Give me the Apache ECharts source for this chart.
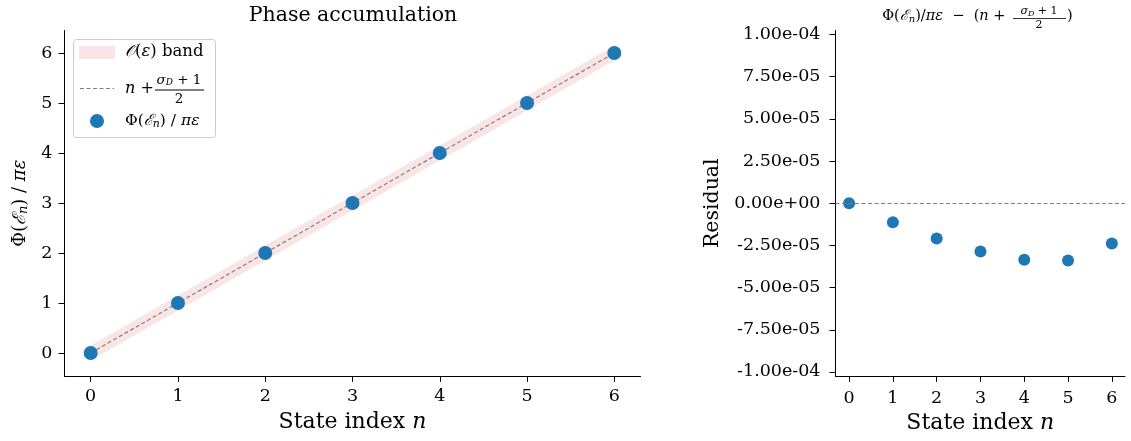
<!DOCTYPE html>
<html>
<head>
<meta charset="utf-8">
<script src="https://cdn.jsdelivr.net/npm/echarts@6/dist/echarts.min.js"></script>
<style>
  html, body { margin: 0; padding: 0; background: #fff; }
  #chart { width: 1131px; height: 441px; }
</style>
</head>
<body>
<div id="chart"></div>
<script>
// data
var stateIdx = [0, 1, 2, 3, 4, 5, 6];
var idealPhase = [0, 1, 2, 3, 4, 5, 6];          // n + (sigma_D + 1)/2
var residual = [0, -1.12e-5, -2.09e-5, -2.86e-5, -3.35e-5, -3.39e-5, -2.39e-5];
var bandHalf = 0.15;                              // O(eps) band half width
var xTicks = [0, 1, 2, 3, 4, 5, 6];
var phaseTicks = [0, 1, 2, 3, 4, 5, 6];
var residTicks = [-1e-4, -7.5e-5, -5e-5, -2.5e-5, 0, 2.5e-5, 5e-5, 7.5e-5, 1e-4];

var FONT = '"DejaVu Serif", "Liberation Serif", serif';
var INK = '#000';
var TICK_FS = 17.5;

// matplotlib style 1.00e-04
function sci(v) {
  if (Math.abs(v) < 1e-12) return '0.00e+00';
  var p = v.toExponential(2).split('e');
  var e = parseInt(p[1], 10);
  return p[0] + 'e' + (e < 0 ? '-' : '+') + (Math.abs(e) < 10 ? '0' : '') + Math.abs(e);
}

function pairs(ys) {
  return stateIdx.map(function (x, i) { return [x, ys[i]]; });
}

var phase = idealPhase.map(function (v, i) { return v + residual[i]; });
var bandData = stateIdx.map(function (x, i) {
  return [x, idealPhase[i] - bandHalf, idealPhase[i] + bandHalf];
});

function richSized(size) {
  return {
    r: { fontFamily: FONT, fontSize: size, color: INK },
    i: { fontFamily: FONT, fontSize: size, fontStyle: 'italic', color: INK },
    c: { fontFamily: FONT, fontSize: size, fontStyle: 'italic', color: INK },
    s: { fontFamily: FONT, fontSize: Math.round(size * 0.7), fontStyle: 'italic', color: INK, padding: [Math.round(size * 0.45), 0, 0, 0] }
  };
}

function axisBase() {
  return {
    axisLine: { show: true, onZero: false, lineStyle: { color: INK, width: 1 } },
    axisTick: { show: true, length: 6, lineStyle: { color: INK, width: 1 } },
    splitLine: { show: false },
    axisLabel: { color: INK, fontFamily: FONT, fontSize: TICK_FS }
  };
}

function xAxisFor(idx, min, max, labelGap) {
  var a = axisBase();
  a.type = 'value';
  a.gridIndex = idx;
  a.min = min;
  a.max = max;
  a.axisTick.customValues = xTicks;
  a.axisLabel.customValues = xTicks;
  a.axisLabel.margin = labelGap;
  a.name = '{r|State index }{i|n}';
  a.nameLocation = 'middle';
  a.nameGap = 35;
  a.nameTextStyle = { rich: richSized(22) };
  return a;
}

// whole band drawn as one polygon through the data points
function renderBand(params, api) {
  if (params.dataIndex !== 0) return null;
  var upper = [], lower = [];
  for (var i = 0; i < bandData.length; i++) {
    upper.push(api.coord([bandData[i][0], bandData[i][2]]));
    lower.unshift(api.coord([bandData[i][0], bandData[i][1]]));
  }
  return {
    type: 'polygon',
    shape: { points: upper.concat(lower) },
    style: { fill: 'rgba(214,39,40,0.12)' }
  };
}

var chart = echarts.init(document.getElementById('chart'));

var yLeft = axisBase();
yLeft.type = 'value';
yLeft.gridIndex = 0;
yLeft.min = -0.46;
yLeft.max = 6.45;
yLeft.axisTick.customValues = phaseTicks;
yLeft.axisLabel.customValues = phaseTicks;
yLeft.axisLabel.margin = 12;
yLeft.name = '{r|Φ(}{c|ℰ}{s|n}{r|) / }{i|πε}';
yLeft.nameLocation = 'middle';
yLeft.nameRotate = 90;
yLeft.nameGap = 32;
yLeft.nameTextStyle = { rich: richSized(18) };

var yRight = axisBase();
yRight.type = 'value';
yRight.gridIndex = 1;
yRight.min = -1.024e-4;
yRight.max = 1.024e-4;
yRight.axisTick.customValues = residTicks;
yRight.axisLabel.customValues = residTicks;
yRight.axisLabel.margin = 15;
yRight.axisLabel.formatter = sci;
yRight.name = 'Residual';
yRight.nameLocation = 'middle';
yRight.nameRotate = 90;
yRight.nameGap = 112;
yRight.nameTextStyle = { fontFamily: FONT, fontSize: 20.5, color: INK };

var option = {
  animation: false,
  backgroundColor: '#fff',
  grid: [
    { left: 64.5, top: 30.5, width: 576, height: 345.5 },
    { left: 835.5, top: 30.5, width: 289.5, height: 345.5 }
  ],
  xAxis: [xAxisFor(0, -0.3, 6.3, 11), xAxisFor(1, -0.31, 6.3, 13)],
  yAxis: [yLeft, yRight],
  series: [
    {
      type: 'custom', xAxisIndex: 0, yAxisIndex: 0, silent: true, z: 1,
      data: bandData, renderItem: renderBand,
      encode: { x: 0, y: [1, 2] }
    },
    {
      type: 'line', xAxisIndex: 0, yAxisIndex: 0,
      data: pairs(idealPhase), symbol: 'none', z: 3,
      lineStyle: { color: '#808080', width: 1.2, type: [4, 2.5] }
    },
    {
      type: 'scatter', xAxisIndex: 0, yAxisIndex: 0,
      data: pairs(phase), symbolSize: 14, z: 4,
      itemStyle: { color: '#1f77b4', opacity: 1 }
    },
    {
      type: 'scatter', xAxisIndex: 1, yAxisIndex: 1,
      data: pairs(residual), symbolSize: 12, z: 4,
      itemStyle: { color: '#1f77b4', opacity: 1 },
      markLine: {
        silent: true, symbol: 'none', label: { show: false },
        lineStyle: { color: '#808080', width: 1, type: [4, 2.5] },
        data: [{ yAxis: 0 }]
      }
    }
  ],
  graphic: [
    // left title
    {
      type: 'text', z: 10,
      style: { x: 353, y: 16, text: 'Phase accumulation', font: '20.5px ' + FONT,
        fill: INK, textAlign: 'center', textVerticalAlign: 'middle' }
    },
    // right title: Phi(E_n)/pi eps - (n + (sigma_D+1)/2)
    {
      type: 'group', z: 10,
      children: [
        { type: 'text', style: { x: 1010, y: 16, text: '{r|Φ(}{c|ℰ}{s|n}{r|)/}{i|πε}{r|  −  (}{i|n}{r| + }',
          rich: richSized(14.5), textAlign: 'right', textVerticalAlign: 'middle' } },
        { type: 'text', style: { x: 1039, y: 11, text: '{i|σ}{s|D}{r| + 1}', rich: richSized(11),
          textAlign: 'center', textVerticalAlign: 'middle' } },
        { type: 'line', shape: { x1: 1013, y1: 18.5, x2: 1066, y2: 18.5 }, style: { stroke: INK, lineWidth: 0.8 } },
        { type: 'text', style: { x: 1039, y: 25, text: '2', font: '11px ' + FONT, fill: INK,
          textAlign: 'center', textVerticalAlign: 'middle' } },
        { type: 'text', style: { x: 1067, y: 16, text: ')', font: '14.5px ' + FONT, fill: INK,
          textAlign: 'left', textVerticalAlign: 'middle' } }
      ]
    },
    // legend
    {
      type: 'group', z: 20,
      children: [
        { type: 'rect', shape: { x: 73.5, y: 39.5, width: 142, height: 98, r: 3 },
          style: { fill: 'rgba(255,255,255,0.85)', stroke: '#cccccc', lineWidth: 1 } },
        { type: 'rect', shape: { x: 79, y: 46, width: 36, height: 13 },
          style: { fill: 'rgba(214,39,40,0.12)' } },
        { type: 'text', style: { x: 125, y: 52, text: '{c|𝒪}{r|(}{i|ε}{r|) band}', rich: richSized(16.5),
          textAlign: 'left', textVerticalAlign: 'middle' } },
        { type: 'line', shape: { x1: 80, y1: 88.5, x2: 114, y2: 88.5 },
          style: { stroke: '#808080', lineWidth: 1.2, lineDash: [4, 2.5] } },
        { type: 'text', style: { x: 125, y: 89, text: '{i|n}{r| + }', rich: richSized(16),
          textAlign: 'left', textVerticalAlign: 'middle' } },
        { type: 'text', style: { x: 179, y: 80, text: '{i|σ}{s|D}{r| + 1}', rich: richSized(13.5),
          textAlign: 'center', textVerticalAlign: 'middle' } },
        { type: 'line', shape: { x1: 155, y1: 90, x2: 204, y2: 90 }, style: { stroke: INK, lineWidth: 1 } },
        { type: 'text', style: { x: 179, y: 99, text: '2', font: '13.5px ' + FONT, fill: INK,
          textAlign: 'center', textVerticalAlign: 'middle' } },
        { type: 'circle', shape: { cx: 97, cy: 121, r: 7 }, style: { fill: '#1f77b4' } },
        { type: 'text', style: { x: 125, y: 121, text: '{r|Φ(}{c|ℰ}{s|n}{r|) / }{i|πε}', rich: richSized(15.5),
          textAlign: 'left', textVerticalAlign: 'middle' } }
      ]
    }
  ]
};

chart.setOption(option);
</script>
</body>
</html>
